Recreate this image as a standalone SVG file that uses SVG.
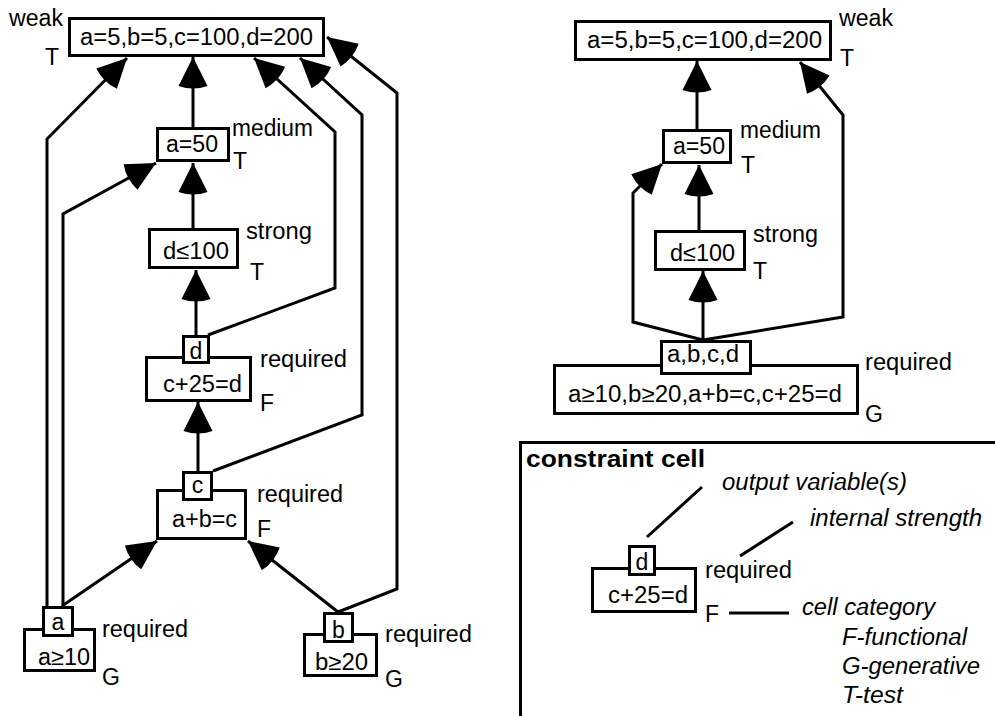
<svg xmlns="http://www.w3.org/2000/svg" width="995" height="716" viewBox="0 0 995 716">
  <defs>
    <marker id="arrow" markerUnits="userSpaceOnUse" orient="auto" refX="0" refY="0" markerWidth="40" markerHeight="40" overflow="visible">
      <path d="M0,0 L-29,-14.5 Q-34,0 -29,14.5 Z" fill="#000"/>
    </marker>
  </defs>
  <style>
    rect { fill: #fff; stroke: #000; stroke-width: 3; }
    .conn path, .conn line { fill: none; stroke: #000; stroke-width: 3; stroke-linejoin: miter; }
    .arr { marker-end: url(#arrow); }
    text { font-family: "Liberation Sans", Arial, Helvetica, sans-serif; font-size: 23px; fill: #000; }
    .mid { text-anchor: middle; }
    .it { font-style: italic; }
    .bold { font-weight: bold; font-size: 24px; }
    .frame { fill: none; stroke: #000; stroke-width: 3; }
  </style>

  <!-- connectors -->
  <g id="connectors" class="conn">
    <!-- left network -->
    <path class="arr" d="M193,127 L193,57"/>
    <path class="arr" d="M193,228 L193,163"/>
    <path class="arr" d="M196,335 L196,270"/>
    <path class="arr" d="M198,471 L198,402"/>
    <path class="arr" d="M62,606 L157,541"/>
    <path class="arr" d="M338,612 L248,541"/>
    <path class="arr" d="M47,606 L47,139 L127,58"/>
    <path class="arr" d="M63,606 L63,214 L156,163"/>
    <path class="arr" d="M208,335 L335,288 L335,132 L254,58"/>
    <path class="arr" d="M213,471 L362,415 L362,115 L300,58"/>
    <path class="arr" d="M338,612 L397,589 L397,93 L327,37"/>
    <!-- right network -->
    <path class="arr" d="M697,129 L697,61"/>
    <path class="arr" d="M699,230 L699,165"/>
    <path class="arr" d="M703,340 L703,271"/>
    <path class="arr" d="M703,340 L843,317 L843,115 L800,62"/>
    <path class="arr" d="M703,340 L633,322 L633,193 L662,164"/>
    <!-- legend leaders -->
    <line x1="647" y1="537" x2="702" y2="487"/>
    <line x1="740" y1="556" x2="793" y2="522"/>
    <line x1="729" y1="613" x2="789" y2="613"/>
  </g>

  <!-- left network nodes -->
  <g id="L-weak">
    <rect x="69.5" y="18.5" width="254" height="37"/>
    <text x="80" y="45" textLength="233" lengthAdjust="spacingAndGlyphs">a=5,b=5,c=100,d=200</text>
    <text x="9" y="26" textLength="54" lengthAdjust="spacingAndGlyphs">weak</text>
    <text x="45" y="65">T</text>
  </g>
  <g id="L-a50">
    <rect x="157.5" y="128.5" width="71" height="32"/>
    <text x="166" y="152" textLength="52" lengthAdjust="spacingAndGlyphs">a=50</text>
    <text x="232" y="136" textLength="81" lengthAdjust="spacingAndGlyphs">medium</text>
    <text x="233" y="169">T</text>
  </g>
  <g id="L-d100">
    <rect x="149.5" y="229.5" width="88" height="38"/>
    <text x="163" y="259" textLength="66" lengthAdjust="spacingAndGlyphs">d≤100</text>
    <text x="246" y="239" textLength="66" lengthAdjust="spacingAndGlyphs">strong</text>
    <text x="250" y="280">T</text>
  </g>
  <g id="L-cd">
    <rect x="146.5" y="357.5" width="104" height="43"/>
    <rect x="183.5" y="336.5" width="25" height="26"/>
    <text class="mid" x="196" y="359">d</text>
    <text x="163" y="392" textLength="79" lengthAdjust="spacingAndGlyphs">c+25=d</text>
    <text x="260" y="367" textLength="87" lengthAdjust="spacingAndGlyphs">required</text>
    <text x="260" y="411">F</text>
  </g>
  <g id="L-abc">
    <rect x="157.5" y="490.5" width="88" height="48"/>
    <rect x="183.5" y="472.5" width="28" height="27"/>
    <text class="mid" x="197.5" y="493">c</text>
    <text x="172" y="527" textLength="65" lengthAdjust="spacingAndGlyphs">a+b=c</text>
    <text x="257" y="502" textLength="86" lengthAdjust="spacingAndGlyphs">required</text>
    <text x="257" y="537">F</text>
  </g>
  <g id="L-a10">
    <rect x="24.5" y="629.5" width="70" height="41"/>
    <rect x="43.5" y="607.5" width="29" height="28"/>
    <text class="mid" x="58" y="630">a</text>
    <text x="38" y="665" textLength="52" lengthAdjust="spacingAndGlyphs">a≥10</text>
    <text x="102" y="637" textLength="86" lengthAdjust="spacingAndGlyphs">required</text>
    <text x="102" y="685">G</text>
  </g>
  <g id="L-b20">
    <rect x="304.5" y="634.5" width="72" height="41"/>
    <rect x="324.5" y="613.5" width="28" height="28"/>
    <text class="mid" x="338.5" y="638">b</text>
    <text x="315" y="670" textLength="53" lengthAdjust="spacingAndGlyphs">b≥20</text>
    <text x="385" y="642" textLength="87" lengthAdjust="spacingAndGlyphs">required</text>
    <text x="385" y="687">G</text>
  </g>

  <!-- right network nodes -->
  <g id="R-weak">
    <rect x="575.5" y="21.5" width="255" height="38"/>
    <text x="587" y="48" textLength="235" lengthAdjust="spacingAndGlyphs">a=5,b=5,c=100,d=200</text>
    <text x="839" y="26" textLength="54" lengthAdjust="spacingAndGlyphs">weak</text>
    <text x="840" y="66">T</text>
  </g>
  <g id="R-a50">
    <rect x="663.5" y="130.5" width="67" height="32"/>
    <text x="673" y="154" textLength="52" lengthAdjust="spacingAndGlyphs">a=50</text>
    <text x="740" y="138" textLength="81" lengthAdjust="spacingAndGlyphs">medium</text>
    <text x="741" y="173">T</text>
  </g>
  <g id="R-d100">
    <rect x="655.5" y="231.5" width="89" height="38"/>
    <text x="670" y="261" textLength="65" lengthAdjust="spacingAndGlyphs">d≤100</text>
    <text x="753" y="242" textLength="65" lengthAdjust="spacingAndGlyphs">strong</text>
    <text x="753" y="279">T</text>
  </g>
  <g id="R-all">
    <rect x="554.5" y="365.5" width="303" height="48"/>
    <rect x="661.5" y="341.5" width="89" height="32"/>
    <text x="667" y="362" textLength="72" lengthAdjust="spacingAndGlyphs">a,b,c,d</text>
    <text x="568" y="402" textLength="274" lengthAdjust="spacingAndGlyphs">a≥10,b≥20,a+b=c,c+25=d</text>
    <text x="865" y="370" textLength="87" lengthAdjust="spacingAndGlyphs">required</text>
    <text x="865" y="422">G</text>
  </g>

  <!-- legend -->
  <g id="legend">
    <path class="frame" d="M996,442.5 L520.5,442.5 L520.5,717"/>
    <text class="bold" x="526" y="467" textLength="179" lengthAdjust="spacingAndGlyphs">constraint cell</text>
    <text class="it" x="722" y="490" textLength="185" lengthAdjust="spacingAndGlyphs">output variable(s)</text>
    <text class="it" x="810" y="526" textLength="172" lengthAdjust="spacingAndGlyphs">internal strength</text>
    <rect x="592.5" y="568.5" width="103" height="43"/>
    <rect x="629.5" y="546.5" width="25" height="28"/>
    <text class="mid" x="642" y="570">d</text>
    <text x="608" y="603" textLength="80" lengthAdjust="spacingAndGlyphs">c+25=d</text>
    <text x="705" y="578" textLength="87" lengthAdjust="spacingAndGlyphs">required</text>
    <text x="705" y="622">F</text>
    <text class="it" x="802" y="615" textLength="133" lengthAdjust="spacingAndGlyphs">cell category</text>
    <text class="it" x="842" y="645" textLength="125" lengthAdjust="spacingAndGlyphs">F-functional</text>
    <text class="it" x="842" y="674" textLength="138" lengthAdjust="spacingAndGlyphs">G-generative</text>
    <text class="it" x="842" y="703" textLength="61" lengthAdjust="spacingAndGlyphs">T-test</text>
  </g>
</svg>
